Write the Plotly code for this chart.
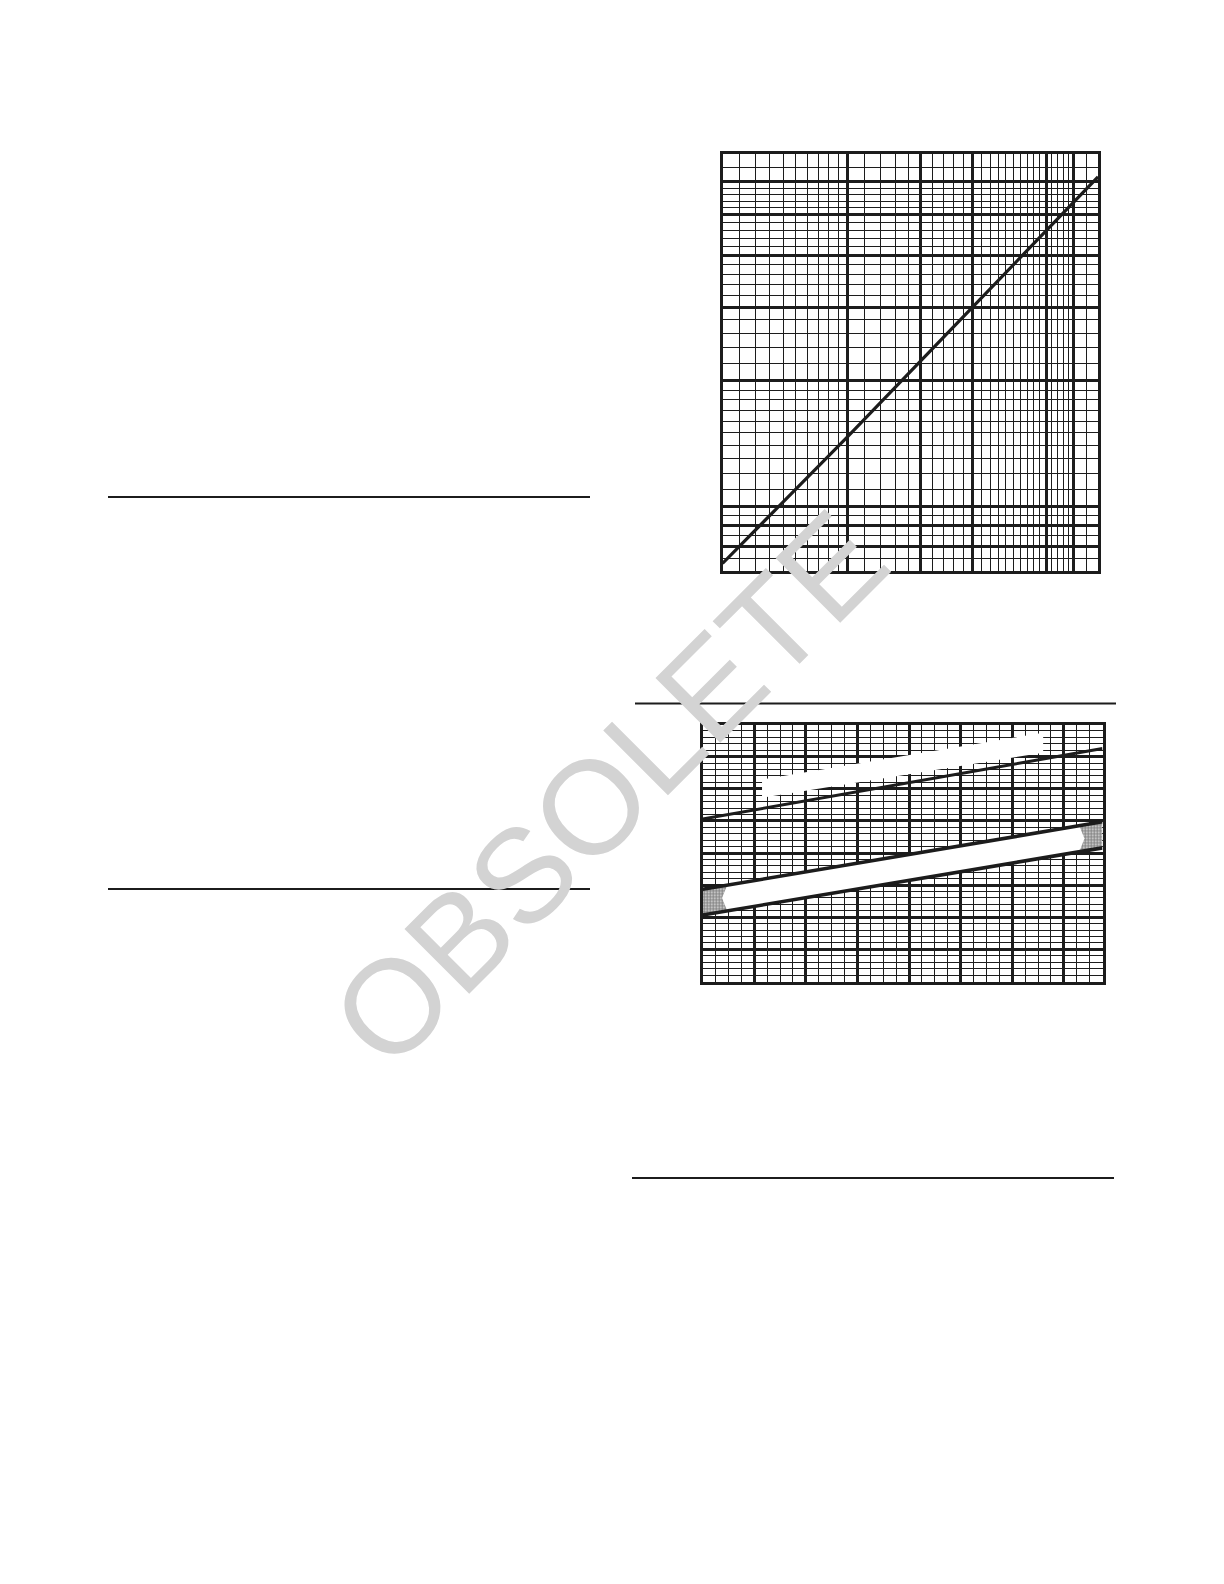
import math
import plotly.graph_objects as go

# ---- upper chart: log-log grid with one straight line ----
top_x = [10, 20, 40, 80]
top_y = [7.3, 14.7, 30.1, 61.7]
top_x_range = [10, 80]
top_y_range = [7, 70]
top_x_major = [20, 30, 40, 60, 70]
top_x_minor = [11, 12, 13, 14, 15, 16, 17, 18, 19,
               22, 24, 26, 28, 32, 34, 36, 38,
               42, 44, 46, 48, 50, 52, 54, 56, 58,
               62, 64, 66, 68, 75]
top_y_major = [8, 9, 10, 20, 30, 40, 50, 60]
top_y_minor = [7.5, 8.5, 9.5, 11, 12, 13, 14, 15, 16, 17, 18, 19,
               22, 24, 26, 28, 32, 34, 36, 38,
               42, 44, 46, 48, 52, 54, 56, 58, 65]

# ---- lower chart: linear grid, one line and one band ----
bot_x_range = [0, 155]
bot_y_range = [0, 8]
bot_line_x = [0, 155]
bot_line_y = [5.06, 7.25]
band_x = [0, 155]
band_hi = [2.87, 4.97]
band_lo = [2.07, 4.16]
# whited-out middle of the band (stipple only left at the ends)
clear_x = [7.5, 9.5, 146, 148]
clear_hi = [2.6, 3.0, 4.85, 4.45]
clear_lo = [2.6, 2.2, 4.04, 4.45]
# whited-out label area above the line
patch_x = [23, 132]
patch_lo = [5.72, 7.12]
patch_hi = [6.29, 7.74]

W, H = 1224, 1584
DX, DY = -8, -7   # page offset
INK = "#1c1c1c"


def px_x(p):
    return (p + DX) / W


def px_y(p):
    return 1 - (p + DY) / H


fig = go.Figure()

fig.add_trace(go.Scatter(x=top_x, y=top_y, mode="lines",
                         line=dict(color=INK, width=3.2),
                         xaxis="x", yaxis="y", hoverinfo="skip"))

fig.add_trace(go.Scatter(x=patch_x + patch_x[::-1], y=patch_lo + patch_hi[::-1],
                         mode="lines", fill="toself", fillcolor="white",
                         line=dict(width=0), xaxis="x2", yaxis="y2", hoverinfo="skip"))
fig.add_trace(go.Scatter(x=bot_line_x, y=bot_line_y, mode="lines",
                         line=dict(color=INK, width=3),
                         xaxis="x2", yaxis="y2", hoverinfo="skip"))
fig.add_trace(go.Scatter(x=band_x + band_x[::-1], y=band_hi + band_lo[::-1],
                         mode="lines", fill="toself", fillcolor="white",
                         fillpattern=dict(shape=".", fgcolor="#000000", bgcolor="white",
                                          size=3, solidity=0.7),
                         line=dict(width=0), xaxis="x2", yaxis="y2", hoverinfo="skip"))
fig.add_trace(go.Scatter(x=clear_x + clear_x[::-1], y=clear_hi + clear_lo[::-1],
                         mode="lines", fill="toself", fillcolor="white",
                         line=dict(width=0), xaxis="x2", yaxis="y2", hoverinfo="skip"))
for edge in (band_hi, band_lo):
    fig.add_trace(go.Scatter(x=band_x, y=edge, mode="lines",
                             line=dict(color=INK, width=3.6),
                             xaxis="x2", yaxis="y2", hoverinfo="skip"))

grid_common = dict(showline=True, mirror=True, linewidth=3, linecolor=INK,
                   showticklabels=False, ticks="", zeroline=False,
                   showgrid=True, gridcolor=INK, gridwidth=2.6, fixedrange=True)
minor_common = dict(showgrid=True, gridcolor=INK, gridwidth=1.1, ticks="")

fig.update_layout(
    width=W, height=H,
    margin=dict(l=0, r=0, t=0, b=0),
    paper_bgcolor="white", plot_bgcolor="white",
    showlegend=False,
    xaxis=dict(type="log", domain=[px_x(722.5), px_x(1098)],
               range=[math.log10(v) for v in top_x_range],
               tickmode="array", tickvals=top_x_major,
               minor=dict(tickmode="array", tickvals=top_x_minor, **minor_common),
               anchor="y", **grid_common),
    yaxis=dict(type="log", domain=[px_y(570), px_y(153)],
               range=[math.log10(v) for v in top_y_range],
               tickmode="array", tickvals=top_y_major,
               minor=dict(tickmode="array", tickvals=top_y_minor, **minor_common),
               anchor="x", **grid_common),
    xaxis2=dict(domain=[px_x(702.7), px_x(1102.5)], range=bot_x_range,
                tick0=0, dtick=20,
                minor=dict(tick0=0, dtick=5, **minor_common),
                anchor="y2", **grid_common),
    yaxis2=dict(domain=[px_y(980.5), px_y(723.5)], range=bot_y_range,
                tick0=0, dtick=1,
                minor=dict(tick0=0, dtick=0.2, **minor_common),
                anchor="x2", **grid_common),
)

# section rules of the page
rules = [(108, 590, 496), (108, 590, 888), (635, 1116, 702.5), (632, 1114, 1177)]
for x0, x1, yy in rules:
    fig.add_shape(type="line", xref="paper", yref="paper",
                  x0=px_x(x0), x1=px_x(x1), y0=px_y(yy), y1=px_y(yy),
                  line=dict(color=INK, width=2))

fig.add_annotation(text="OBSOLETE", xref="paper", yref="paper",
                   x=601 / W, y=1 - 781 / H, xanchor="center", yanchor="middle",
                   textangle=-45, showarrow=False,
                   font=dict(family="Liberation Sans, Arial, sans-serif",
                             size=133, color="#d3d3d3"))

fig.write_html("out.html")
